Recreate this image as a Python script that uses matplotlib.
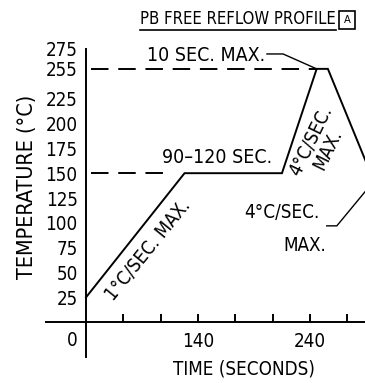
import matplotlib
matplotlib.use("Agg")
import matplotlib.pyplot as plt
from matplotlib import font_manager
from matplotlib.lines import Line2D

# pick the narrowest regular sans face that is installed
stretch_rank = font_manager.stretch_dict
narrow = None
for f in font_manager.fontManager.ttflist:
    if f.style != 'normal' or f.weight not in (400, 'normal', 'regular'):
        continue
    s = f.stretch if isinstance(f.stretch, int) else stretch_rank.get(f.stretch, 500)
    if s < 500 and (narrow is None or s < narrow[0]):
        narrow = (s, f)
if narrow is not None:
    plt.rcParams['font.family'] = [narrow[1].name, 'DejaVu Sans']
    plt.rcParams['font.stretch'] = narrow[1].stretch
    scale = 1.0
else:
    plt.rcParams['font.family'] = ['DejaVu Sans']
    scale = 0.85

# reflow profile corners (seconds, deg C)
profile_t = [40, 128, 215, 246, 256, 300]
profile_T = [25, 150, 150, 255, 255, 134]

ytick_vals = [25, 50, 75, 100, 125, 150, 175, 200, 225, 255, 275]
ytick_text = ['25', '50', '75', '100', '125', '150', '175', '200', '225', '255', '275']
xtick_vals = [140 + k * 100 / 3 for k in range(-2, 5)]
xtick_text = ['', '', '140', '', '', '240', '']

# dashed guide levels
soak_T, peak_T = 150, 255
soak_guide_t = [44.5, 110.5]
peak_guide_t = [44.5, 246]

# leader lines
lead10_t = [201.6, 216, 246]
lead10_T = [270, 270, 255]
leadcool_t = [255, 264, 297]
leadcool_T = [97, 97, 142]

fig = plt.figure(figsize=(3.65, 3.83), dpi=100)
ax = fig.add_axes([46 / 365, 26 / 383, 354 / 365, 308 / 383])
ax.set_xlim(4.3, 320.4)
ax.set_ylim(-35, 273)

lw = 1.4
ax.plot(profile_t, profile_T, color='black', lw=lw, solid_joinstyle='miter')
ax.plot(soak_guide_t, [soak_T, soak_T], color='black', lw=lw, linestyle=(0, (9, 5)))
ax.plot(peak_guide_t, [peak_T, peak_T], color='black', lw=lw, linestyle=(0, (9, 5)))
ax.plot(lead10_t, lead10_T, color='black', lw=1.0)
ax.plot(leadcool_t, leadcool_T, color='black', lw=1.0)

for side in ['top', 'right']:
    ax.spines[side].set_visible(False)
ax.spines['left'].set_position(('data', 40))
ax.spines['bottom'].set_position(('data', 0))
ax.spines['left'].set_linewidth(lw)
ax.spines['bottom'].set_linewidth(lw)

fs = 13.5 * scale
tfs = 13.5 * scale
ax.set_yticks(ytick_vals)
ax.set_yticklabels(ytick_text)
ax.tick_params(axis='y', length=0, pad=6, labelsize=tfs)
ax.set_xticks(xtick_vals)
ax.set_xticklabels(xtick_text)
ax.tick_params(axis='x', direction='in', length=6, width=lw, pad=7, labelsize=tfs)

ax.annotate('0', xy=(40, 0), xytext=(-10, -13.5), textcoords='offset points',
            ha='center', va='center', fontsize=tfs)
ax.text(200, 268, '10 SEC. MAX.', ha='right', va='center', fontsize=14 * scale)
ax.text(157, 166, '90\u2013120 SEC.', ha='center', va='center', fontsize=14 * scale)
ax.text(95.4, 72, '1\u00b0C/SEC. MAX.', ha='center', va='center', fontsize=fs,
        rotation=51, rotation_mode='anchor')
ax.text(248.5, 178, '4\u00b0C/SEC.\nMAX.', ha='center', va='center', fontsize=fs,
        rotation=64, rotation_mode='anchor', multialignment='center', linespacing=1.0)
ax.text(249, 110.5, '4\u00b0C/SEC.', ha='right', va='center', fontsize=fs)
ax.text(235.5, 77.5, 'MAX.', ha='center', va='center', fontsize=fs)

fig.text(27 / 365, 1 - 187 / 383, 'TEMPERATURE (\u00b0C)', rotation=90,
         ha='center', va='center', fontsize=15.5 * scale)
fig.text(244 / 365, 1 - 369 / 383, 'TIME (SECONDS)', ha='center', va='center', fontsize=fs)

title = fig.text(238 / 365, 1 - 19 / 383, 'PB FREE REFLOW PROFILE',
                 ha='center', va='center', fontsize=12 * scale)
fig.text(347 / 365, 1 - 20 / 383, 'A', ha='center', va='center', fontsize=8 * scale,
         bbox=dict(boxstyle='square,pad=0.4', fc='none', ec='black', lw=1.2))

# underline under the title
fig.canvas.draw()
bb = title.get_window_extent()
uy = 1 - 30 / 383
fig.add_artist(Line2D([bb.x0 / fig.bbox.width, bb.x1 / fig.bbox.width], [uy, uy],
                      transform=fig.transFigure, color='black', lw=1.2))

fig.savefig('out.png', dpi=100)
